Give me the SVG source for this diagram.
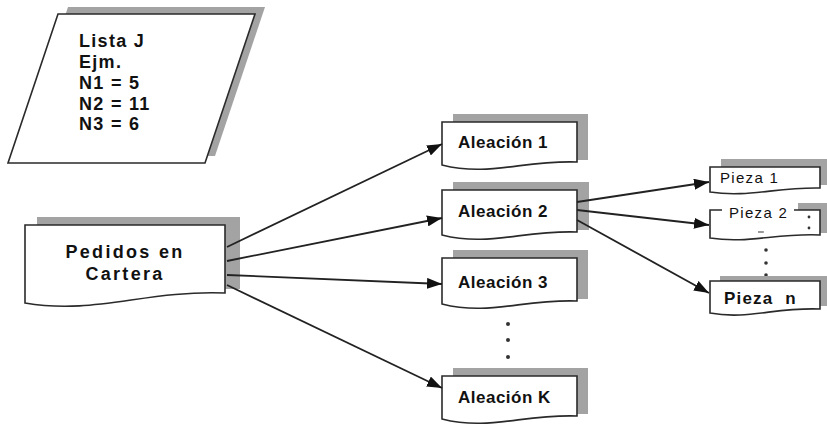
<svg xmlns="http://www.w3.org/2000/svg" width="827" height="426" viewBox="0 0 827 426">
<style>
.box{fill:#fff;stroke:#2a2a2a;stroke-width:1.6}
.sh{fill:#a3a3a3}
.conn{stroke:#222;stroke-width:1.8;fill:none}
.tb{font-family:"Liberation Sans",Arial,sans-serif;font-weight:bold;fill:#111}
.tn{font-family:"Liberation Sans",Arial,sans-serif;font-weight:normal;fill:#111}
.dot{fill:#333}
</style>
<defs>
<marker id="ah" markerUnits="userSpaceOnUse" markerWidth="15" markerHeight="11" refX="15" refY="5.5" orient="auto">
<path d="M0,0 L15,5.5 L0,11 Z" fill="#111"/>
</marker>
</defs>
<rect width="827" height="426" fill="#fff"/>

<g id="lista">
<polygon class="sh" points="68,7 265,7 215,156 18,156"/>
<polygon class="box" points="58,14 255,14 205,163 8,163"/>
<g class="tb" font-size="18" letter-spacing="1.3">
<text x="79" y="47">Lista J</text>
<text x="79" y="68">Ejm.</text>
<text x="79" y="89">N1 = 5</text>
<text x="79" y="110">N2 = 11</text>
<text x="79" y="130">N3 = 6</text>
</g>
</g>

<g id="pedidos">
<rect class="sh" x="37" y="217" width="203" height="72"/>
<path class="box" d="M25,225 H225 V293 C145,290 95,315 25,303 Z"/>
<text class="tb" x="125" y="258" font-size="18" letter-spacing="2.3" text-anchor="middle">Pedidos en</text>
<text class="tb" x="125" y="280" font-size="18" letter-spacing="2.3" text-anchor="middle">Cartera</text>
</g>

<g id="aleacion1">
<rect class="sh" x="453" y="114" width="135" height="46"/>
<path class="box" d="M442,122 H577 V162 C523,160 489,177 442,165 Z"/>
<text class="tb" x="458" y="148" font-size="17" letter-spacing="0.5">Aleación 1</text>
</g>
<g id="aleacion2">
<rect class="sh" x="453" y="182" width="136" height="48"/>
<path class="box" d="M442,190 H577 V232 C523,230 489,247 442,235 Z"/>
<text class="tb" x="458" y="217" font-size="17" letter-spacing="0.5">Aleación 2</text>
</g>
<g id="aleacion3">
<rect class="sh" x="453" y="250" width="135" height="49"/>
<path class="box" d="M442,258 H577 V301 C523,299 489,316 442,304 Z"/>
<text class="tb" x="458" y="288" font-size="17" letter-spacing="0.5">Aleación 3</text>
</g>
<g id="dotsA">
<circle class="dot" cx="508" cy="324" r="2"/>
<circle class="dot" cx="508" cy="340" r="2"/>
<circle class="dot" cx="508" cy="357" r="2"/>
</g>
<g id="aleacionK">
<rect class="sh" x="453" y="368" width="135" height="46"/>
<path class="box" d="M442,376 H577 V416 C523,414 489,431 442,419 Z"/>
<text class="tb" x="458" y="403" font-size="17" letter-spacing="0.5">Aleación K</text>
</g>

<g id="pieza1">
<rect class="sh" x="721" y="159" width="110" height="26"/>
<path class="box" d="M710,167 H820 V188 C776,187 748,198 710,192 Z"/>
<text class="tn" x="720" y="183" font-size="15" letter-spacing="1.3">Pieza 1</text>
</g>
<g id="pieza2">
<rect class="sh" x="798" y="203" width="32" height="30"/>
<path class="box" d="M722,210 H710 V238 C748,244 776,233 820,235 V210 H794"/>
<text class="tn" x="729" y="218" font-size="15" letter-spacing="1.3">Pieza 2</text>
<circle class="dot" cx="809" cy="217" r="1.4"/>
<circle class="dot" cx="809" cy="228" r="1.4"/>
<line x1="758" y1="232" x2="764" y2="232" stroke="#555" stroke-width="1.2"/>
</g>
<g id="dotsP">
<circle class="dot" cx="766" cy="250" r="1.8"/>
<circle class="dot" cx="766" cy="263" r="1.8"/>
<circle class="dot" cx="766" cy="275" r="1.8"/>
</g>
<g id="piezaN">
<rect class="sh" x="720" y="276" width="110" height="30"/>
<path class="box" d="M710,281 H820 V309 C776,307 748,320 710,313 Z"/>
<text class="tb" x="724" y="304" font-size="17" letter-spacing="1.2" xml:space="preserve">Pieza  n</text>
</g>

<g id="connectors">
<line class="conn" x1="227" y1="247" x2="442" y2="144" marker-end="url(#ah)"/>
<line class="conn" x1="227" y1="261" x2="442" y2="218" marker-end="url(#ah)"/>
<line class="conn" x1="227" y1="275" x2="442" y2="284" marker-end="url(#ah)"/>
<line class="conn" x1="227" y1="285" x2="442" y2="388" marker-end="url(#ah)"/>
<line class="conn" x1="577" y1="202" x2="709" y2="182" marker-end="url(#ah)"/>
<line class="conn" x1="577" y1="210" x2="709" y2="225" marker-end="url(#ah)"/>
<line class="conn" x1="577" y1="220" x2="709" y2="293" marker-end="url(#ah)"/>
</g>
</svg>
